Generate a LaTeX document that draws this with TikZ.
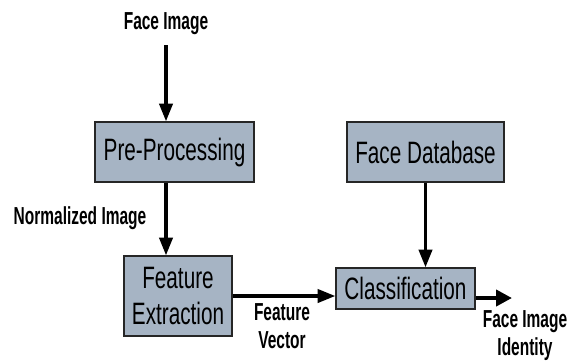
\documentclass[tikz,border=0pt]{standalone}
\usepackage{fontspec}
\setmainfont{Liberation Sans}
\newfontfamily\boxfont[FakeStretch=0.67]{Liberation Sans}
\newfontfamily\lblfont[FakeStretch=0.63]{Liberation Sans}
\usepackage{tikz}
\usetikzlibrary{arrows.meta}
\usepackage{xcolor}
\definecolor{boxfill}{RGB}{166,180,196}

\begin{document}
\begin{tikzpicture}[x=0.02cm,y=-0.02cm,
	blk/.style={draw=black!85, line width=0.8pt, fill=boxfill, inner sep=0pt,
		font=\boxfont\fontsize{17.6}{20.4}\selectfont, align=center},
	lbl/.style={font=\lblfont\bfseries\fontsize{14}{15.9}\selectfont, align=center, inner sep=1pt},
	arr/.style={line width=1.8pt, -{Triangle[length=10pt,width=7.5pt]}}]
	\useasboundingbox (0,0) rectangle (574,363);
	\node[lbl] (inimg) at (166,24) {Face Image};
	\node[blk, minimum width=3.18cm, minimum height=1.2cm] (prep) at (174.5,152) {Pre-Processing};
	\node[blk, minimum width=3.14cm, minimum height=1.2cm] (fdb) at (425.5,152) {Face Database};
	\node[lbl] (norm) at (80,218) {Normalized Image};
	\node[blk, minimum width=2.16cm, minimum height=1.6cm] (fext) at (178,296) {Feature\\Extraction};
	\node[blk, minimum width=2.78cm, minimum height=0.82cm] (cls) at (405.5,288.5) {Classification};
	\node[lbl] (fvec) at (282,326) {Feature\\Vector};
	\node[lbl] (ident) at (525,336) {Face Image\\Identity};
	\coordinate (out) at (512,298);
	\draw[arr] (166,45) -- (inimg.south |- prep.north);
	\draw[arr] (prep.south -| inimg.south) -- (fext.north -| inimg.south);
	\draw[arr] (fext.east) -- (fext.east -| cls.west);
	\draw[arr] (fdb.south) -- (fdb.south |- cls.north);
	\draw[line width=2.8pt, -{Triangle[length=9pt,width=9pt]}] (cls.east |- out) -- (out);
\end{tikzpicture}
\end{document}
